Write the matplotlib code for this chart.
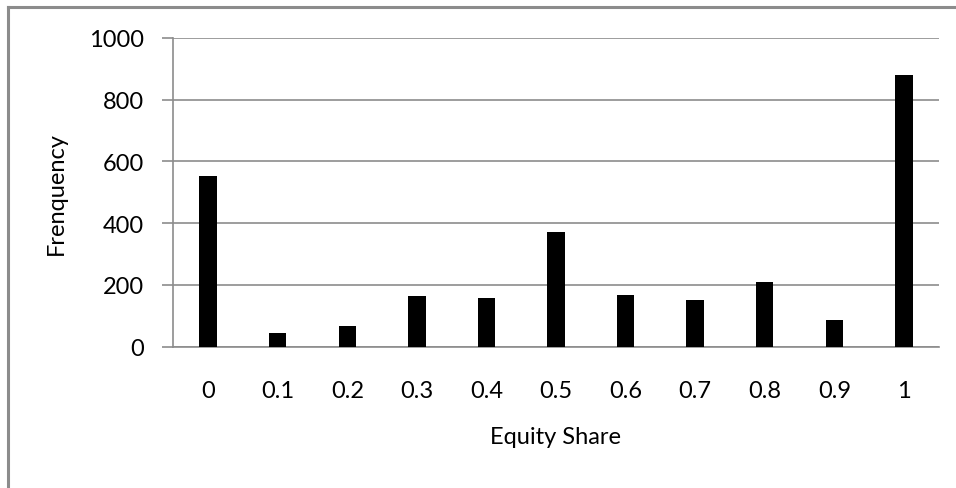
import matplotlib
matplotlib.use("Agg")
import matplotlib.pyplot as plt
from matplotlib.lines import Line2D

# equity share categories and observed frequencies
shares = ["0", "0.1", "0.2", "0.3", "0.4", "0.5", "0.6", "0.7", "0.8", "0.9", "1"]
freq = [553, 43, 66, 165, 159, 372, 167, 150, 210, 87, 880]
y_ticks = [0, 200, 400, 600, 800, 1000]

plt.rcParams['font.family'] = ['Lato', 'DejaVu Sans']

W, H = 956, 489
fig = plt.figure(figsize=(W / 100, H / 100), dpi=100)

# outer chart frame (only top and left edges visible)
grey = "#8c8c8c"
fig.add_artist(Line2D([8 / W, 1], [1 - 8 / H, 1 - 8 / H], color=grey, lw=2.2))
fig.add_artist(Line2D([8 / W, 8 / W], [0, 1 - 8 / H], color=grey, lw=2.2))

left, right, top, bottom = 173.3, 938.7, 38.7, 347.7
ax = fig.add_axes([left / W, 1 - bottom / H, (right - left) / W, (bottom - top) / H])

x = range(len(shares))
ax.bar(x, freq, width=0.25, color="black", zorder=3)

ax.set_xlim(-0.5, len(shares) - 0.5)
ax.set_ylim(0, 1000)
ax.set_yticks(y_ticks)
ax.set_xticks(list(x))
ax.set_xticklabels(shares)
ax.yaxis.grid(True, color=grey, lw=1.2)
ax.set_axisbelow(True)

for s in ["top", "right"]:
    ax.spines[s].set_visible(False)
ax.spines["left"].set_color(grey)
ax.spines["bottom"].set_color(grey)
ax.spines["left"].set_linewidth(1.2)
ax.spines["bottom"].set_linewidth(1.2)

fs = 17
ax.tick_params(axis="y", length=8, color=grey, width=1.2, pad=13, labelsize=fs)
ax.tick_params(axis="x", length=0, pad=24, labelsize=fs)

ax.set_ylabel("Frenquency", fontsize=fs, labelpad=16)
ax.set_xlabel("Equity Share", fontsize=fs, labelpad=18)

fig.savefig("out.png", dpi=100)
